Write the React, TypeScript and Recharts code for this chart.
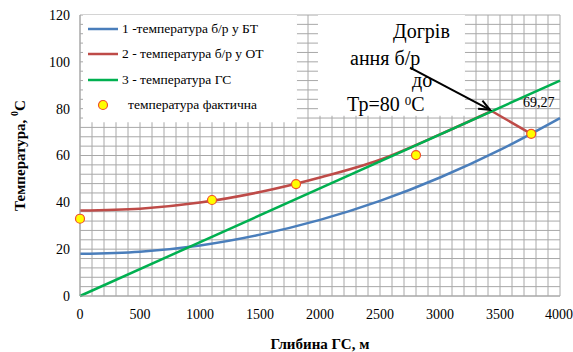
import React from 'react';
import {
  ComposedChart,
  Line,
  Scatter,
  XAxis,
  YAxis,
  CartesianGrid,
  ReferenceArea,
  ReferenceLine
} from 'recharts';

// 1 - температура б/р у БТ
const depthBT = [0, 500, 1000, 1500, 2000, 2500, 3000, 3500, 4000];
const tempBT = [18, 18.9, 21.6, 26.2, 32.5, 40.6, 50.6, 62.4, 76];

// 2 - температура б/р у ОТ
const depthOT = [0, 500, 1000, 1500, 2000, 2500, 3000, 3430];
const tempOT = [36.5, 37.3, 39.9, 44.4, 50.6, 58.2, 69, 79];
const depthOTend = [3430, 3760];
const tempOTend = [79, 69.27];

// 3 - температура ГС
const depthGS = [0, 4000];
const tempGS = [0, 92];

// температура фактична
const depthFact = [0, 1100, 1800, 2800, 3760];
const tempFact = [33, 41, 47.8, 60.2, 69.27];

const xTicks = [0, 500, 1000, 1500, 2000, 2500, 3000, 3500, 4000];
const yTicks = [0, 20, 40, 60, 80, 100, 120];

const toPoints = (xs: number[], ys: number[]) => xs.map((x, i) => ({ x, y: ys[i] }));

const btData = toPoints(depthBT, tempBT);
const otData = toPoints(depthOT, tempOT);
const otEndData = toPoints(depthOTend, tempOTend);
const gsData = toPoints(depthGS, tempGS);
const factData = toPoints(depthFact, tempFact);

const BLUE = '#4a7ebb';
const RED = '#be4b48';
const GREEN = '#00b050';
const GRID = '#a8a8a8';
const FONT = '"Liberation Serif", "Times New Roman", serif';

// plot box in pixels, for the minor grid (100 m and 4 °C)
const PLOT = { left: 80, top: 15, width: 480, height: 281 };
const gridX = Array.from({ length: 41 }, (_, i) => PLOT.left + (i * PLOT.width) / 40);
const gridY = Array.from({ length: 31 }, (_, i) => PLOT.top + (i * PLOT.height) / 30);

if (typeof document !== 'undefined') document.body.style.margin = '0';

const legendItems = [
  { label: '1 -температура б/р у БТ', color: BLUE, type: 'line' },
  { label: '2 - температура б/р у ОТ', color: RED, type: 'line' },
  { label: '3 - температура ГС', color: GREEN, type: 'line' },
  { label: 'температура фактична', color: '#ffff00', type: 'dot' }
];

const YLabel = ({ viewBox }: any) => {
  const cx = 20;
  const cy = viewBox.y + viewBox.height / 2;
  return (
    <text
      x={cx}
      y={cy}
      transform={`rotate(-90 ${cx} ${cy})`}
      textAnchor="middle"
      dominantBaseline="central"
      style={{ fontFamily: FONT, fontSize: 15, fontWeight: 'bold', fill: '#000' }}
    >
      Температура,{' '}
      <tspan fontSize={10} dy={-6}>0</tspan>
      <tspan dy={6}>С</tspan>
    </text>
  );
};

const Arrow = (props: any) => {
  const { x1, y1, x2, y2 } = props;
  const ang = Math.atan2(y2 - y1, x2 - x1);
  const len = 12;
  const spread = 0.4;
  const ax = x2 - len * Math.cos(ang - spread);
  const ay = y2 - len * Math.sin(ang - spread);
  const bx = x2 - len * Math.cos(ang + spread);
  const by = y2 - len * Math.sin(ang + spread);
  return (
    <g>
      <line x1={x1} y1={y1} x2={x2} y2={y2} stroke="#000" strokeWidth={2} />
      <polyline points={`${ax},${ay} ${x2},${y2} ${bx},${by}`} fill="none" stroke="#000" strokeWidth={2} />
    </g>
  );
};

const FactDot = (props: any) => {
  const { cx, cy } = props;
  return <circle cx={cx} cy={cy} r={4.5} fill="#ffff00" stroke="#f0502a" strokeWidth={1.2} />;
};

const textStyle: React.CSSProperties = {
  position: 'absolute',
  fontFamily: FONT,
  fontSize: 20,
  color: '#000',
  whiteSpace: 'nowrap',
  lineHeight: 1
};

export default function App() {
  return (
    <div style={{ position: 'relative', width: 573, height: 352 }}>
      <ComposedChart
        width={573}
        height={352}
        data={gsData}
        margin={{ top: 15, right: 13, bottom: 0, left: 0 }}
      >
        <CartesianGrid
          stroke={GRID}
          strokeOpacity={1}
          verticalPoints={gridX}
          horizontalPoints={gridY}
          syncWithTicks={false}
        />
        <XAxis
          type="number"
          dataKey="x"
          domain={[0, 4000]}
          ticks={xTicks}
          height={56}
          tickLine={false}
          tickSize={0}
          tickMargin={13}
          axisLine={{ stroke: GRID }}
          tick={{ fontFamily: FONT, fontSize: 14, fill: '#000' }}
          label={{
            value: 'Глибина ГС, м',
            position: 'insideBottom',
            offset: 3,
            style: { fontFamily: FONT, fontSize: 15, fontWeight: 'bold', fill: '#000' }
          }}
        />
        <YAxis
          type="number"
          dataKey="y"
          domain={[0, 120]}
          ticks={yTicks}
          width={80}
          tickLine={false}
          tickSize={0}
          tickMargin={10}
          axisLine={{ stroke: GRID }}
          tick={{ fontFamily: FONT, fontSize: 14, fill: '#000' }}
          label={<YLabel />}
        />
        {/* white backgrounds behind legend and annotation */}
        <ReferenceArea x1={25} x2={1808} y1={74.2} y2={120} fill="#fff" fillOpacity={1} stroke="none" />
        <ReferenceArea x1={1983} x2={3208} y1={77} y2={120} fill="#fff" fillOpacity={1} stroke="none" />
        <Line data={btData} dataKey="y" type="monotone" stroke={BLUE} strokeWidth={2.5} dot={false} isAnimationActive={false} />
        <Line data={otData} dataKey="y" type="monotone" stroke={RED} strokeWidth={2.5} dot={false} isAnimationActive={false} />
        <Line data={otEndData} dataKey="y" type="linear" stroke={RED} strokeWidth={2.5} dot={false} isAnimationActive={false} />
        <Line data={gsData} dataKey="y" type="linear" stroke={GREEN} strokeWidth={2.5} dot={false} isAnimationActive={false} />
        <Scatter data={factData} dataKey="y" shape={<FactDot />} isAnimationActive={false} />
        <ReferenceLine
          segment={[{ x: 2750, y: 97.5 }, { x: 3417, y: 79.5 }]}
          shape={<Arrow />}
          ifOverflow="visible"
        />
      </ComposedChart>

      {/* legend */}
      <div style={{ position: 'absolute', left: 83, top: 16, fontFamily: FONT, fontSize: 13.5 }}>
        {legendItems.map((it, i) => (
          <div key={i} style={{ display: 'flex', alignItems: 'center', height: 25.5, paddingLeft: 5 }}>
            <svg width={32} height={12} style={{ marginRight: 2 }}>
              {it.type === 'line' ? (
                <line x1={0} y1={6} x2={30} y2={6} stroke={it.color} strokeWidth={2.5} />
              ) : (
                <circle cx={15} cy={6} r={4.5} fill="#ffff00" stroke="#f0502a" strokeWidth={1.2} />
              )}
            </svg>
            <span style={{ fontFamily: FONT, marginLeft: it.type === 'dot' ? 6 : 0 }}>{it.label}</span>
          </div>
        ))}
      </div>

      {/* annotation */}
      <div style={{ ...textStyle, left: 393, top: 21 }}>Догрів</div>
      <div style={{ ...textStyle, left: 350, top: 48 }}>ання б/р</div>
      <div style={{ ...textStyle, left: 412, top: 70 }}>до</div>
      <div style={{ ...textStyle, left: 347, top: 94 }}>
        Тр=80 <sup style={{ fontSize: 13, verticalAlign: 'top', lineHeight: 1 }}>0</sup>С
      </div>
      <div style={{ ...textStyle, fontSize: 14, left: 523, top: 96 }}>69,27</div>
    </div>
  );
}
